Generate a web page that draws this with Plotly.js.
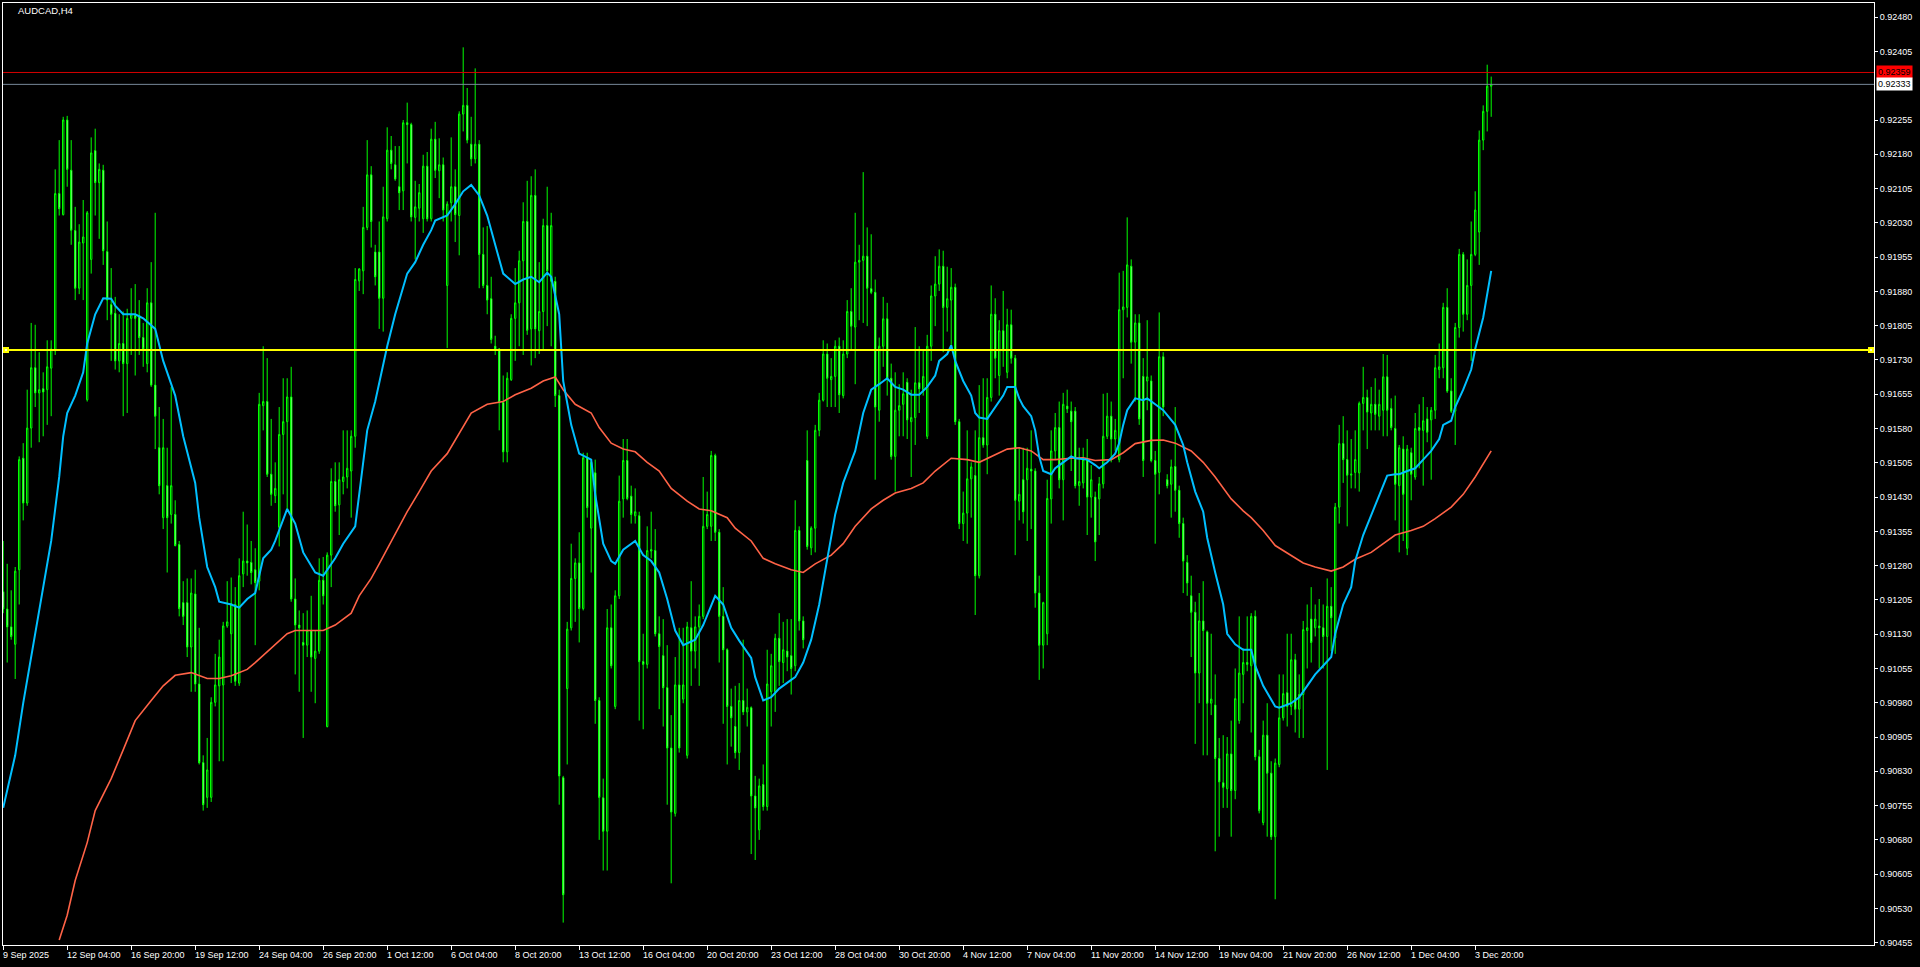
<!DOCTYPE html>
<html><head><meta charset="utf-8">
<script src="https://cdn.plot.ly/plotly-3.0.1.min.js"></script>
<style>html,body{margin:0;padding:0;background:#000;overflow:hidden}#chart{width:1920px;height:967px}</style>
</head><body><div id="chart"></div>
<script>
const symbol = 'AUDCAD,H4';

const open = [
0.91223,0.91185,0.91146,0.91108,0.91271,0.91515,0.91417,0.91581,0.91713,0.91658,
0.91667,0.91665,0.91712,0.91750,0.92094,0.92048,0.92255,0.92145,0.92013,0.91887,
0.91986,0.91643,0.91950,0.92188,0.92118,0.92145,0.91967,0.91851,0.91832,0.91728,
0.91766,0.91722,0.91821,0.91827,0.91827,0.91779,0.91722,0.91855,0.91675,0.91538,
0.91385,0.91455,0.91392,0.91392,0.91326,0.91199,0.91199,0.91102,0.91218,0.91021,
0.90849,0.90773,0.90773,0.90981,0.91017,0.91019,0.91148,0.91131,0.91195,0.91023,
0.91262,0.91290,0.91287,0.91271,0.91246,0.91630,0.91639,0.91480,0.91433,0.91364,
0.91567,0.91595,0.91649,0.91207,0.91150,0.91112,0.91106,0.91138,0.91077,0.91093,
0.91248,0.90928,0.91303,0.91464,0.91413,0.91464,0.91474,0.91487,0.91563,0.91903,
0.91925,0.92020,0.92135,0.91966,0.91966,0.91865,0.92039,0.92189,0.92157,0.92109,
0.92100,0.92249,0.92245,0.92042,0.92062,0.92039,0.92154,0.92039,0.92213,0.92144,
0.92157,0.91893,0.92074,0.92109,0.92046,0.92268,0.92287,0.92202,0.92170,0.92202,
0.91961,0.91893,0.91864,0.91760,0.91754,0.91637,0.91529,0.91687,0.91821,0.91855,
0.91947,0.92033,0.91798,0.92090,0.91794,0.91836,0.92024,0.91902,0.91902,0.91652,
0.90816,0.91011,0.91144,0.91252,0.91286,0.91186,0.91516,0.91362,0.91483,0.90985,
0.90772,0.90699,0.91144,0.90972,0.91214,0.91426,0.91510,0.91432,0.91389,0.91389,
0.91070,0.91064,0.91312,0.91313,0.91131,0.91083,0.91013,0.90881,0.90738,0.91019,
0.90988,0.90865,0.91144,0.91093,0.91146,0.91169,0.91366,0.91366,0.91521,0.91353,
0.91169,0.91096,0.90972,0.90928,0.90871,0.90985,0.90960,0.90969,0.90776,0.90702,
0.90801,0.90753,0.91004,0.91004,0.91121,0.91068,0.91093,0.91083,0.91061,0.91357,
0.91159,0.91510,0.91319,0.91362,0.91576,0.91642,0.91743,0.91687,0.91694,0.91760,
0.91652,0.91743,0.91836,0.91802,0.91944,0.91948,0.91957,0.91886,0.91878,0.91620,
0.91760,0.91820,0.91690,0.91519,0.91620,0.91633,0.91681,0.91595,0.91604,0.91680,
0.91665,0.91563,0.91760,0.91870,0.91896,0.91935,0.91845,0.91861,0.91889,0.91595,
0.91372,0.91395,0.91470,0.91477,0.91258,0.91560,0.91544,0.91648,0.91830,0.91696,
0.91794,0.91703,0.91807,0.91734,0.91421,0.91468,0.91468,0.91491,0.91487,0.91220,
0.91106,0.91131,0.91426,0.91531,0.91582,0.91468,0.91629,0.91618,0.91618,0.91455,
0.91461,0.91512,0.91430,0.91430,0.91426,0.91459,0.91563,0.91607,0.91557,0.91512,
0.91840,0.91845,0.91935,0.91769,0.91811,0.91694,0.91684,0.91684,0.91510,0.91484,
0.91737,0.91468,0.91458,0.91497,0.91445,0.91372,0.91287,0.91214,0.91178,0.91045,
0.91159,0.91135,0.90979,0.90975,0.90858,0.90805,0.90792,0.90868,0.90788,0.90941,
0.91042,0.91068,0.91061,0.91169,0.90862,0.90718,0.90909,0.90826,0.90687,0.90845,
0.90947,0.91002,0.90972,0.91074,0.90966,0.90998,0.91138,0.91163,0.91144,0.91148,
0.91144,0.91125,0.91191,0.91122,0.91408,0.91547,0.91512,0.91478,0.91484,0.91483,
0.91635,0.91648,0.91614,0.91633,0.91607,0.91620,0.91693,0.91624,0.91580,0.91455,
0.91535,0.91318,0.91527,0.91474,0.91582,0.91576,0.91601,0.91599,0.91620,0.91709,
0.91713,0.91845,0.91662,0.91618,0.91801,0.91961,0.91830,0.91893,0.91961,0.92010,
0.92211,0.92274,0.92329];

const high = [
0.91334,0.91284,0.91226,0.91277,0.91519,0.91548,0.91665,0.91811,0.91807,0.91747,
0.91703,0.91773,0.91773,0.92147,0.92211,0.92262,0.92264,0.92211,0.92065,0.92027,
0.92080,0.92056,0.92217,0.92236,0.92160,0.92157,0.92033,0.91931,0.91868,0.91830,
0.91836,0.91842,0.91887,0.91896,0.91861,0.91811,0.91887,0.91944,0.92052,0.91627,
0.91601,0.91538,0.91671,0.91423,0.91334,0.91246,0.91252,0.91252,0.91271,0.91144,
0.90865,0.90903,0.90992,0.91087,0.91118,0.91157,0.91246,0.91254,0.91233,0.91296,
0.91398,0.91370,0.91334,0.91318,0.91658,0.91760,0.91734,0.91601,0.91506,0.91627,
0.91690,0.91690,0.91715,0.91252,0.91182,0.91176,0.91182,0.91214,0.91138,0.91296,
0.91299,0.91309,0.91493,0.91506,0.91506,0.91576,0.91576,0.91576,0.91931,0.91931,
0.92065,0.92211,0.92154,0.91982,0.92033,0.92109,0.92239,0.92220,0.92198,0.92198,
0.92255,0.92293,0.92249,0.92122,0.92115,0.92179,0.92185,0.92236,0.92251,0.92215,
0.92173,0.92077,0.92217,0.92147,0.92274,0.92414,0.92325,0.92262,0.92368,0.92211,
0.92020,0.92023,0.91912,0.91783,0.91756,0.91696,0.91703,0.91830,0.91931,0.91969,
0.92075,0.92122,0.92132,0.92147,0.91944,0.92039,0.92109,0.92052,0.91912,0.91665,
0.90820,0.91157,0.91328,0.91296,0.91353,0.91527,0.91527,0.91512,0.91512,0.90992,
0.90814,0.91185,0.91195,0.91226,0.91477,0.91557,0.91557,0.91455,0.91449,0.91398,
0.91131,0.91366,0.91398,0.91360,0.91169,0.91163,0.91106,0.90953,0.91080,0.91144,
0.91144,0.91157,0.91246,0.91169,0.91195,0.91474,0.91442,0.91531,0.91525,0.91360,
0.91233,0.91099,0.91011,0.91017,0.91023,0.91118,0.91011,0.90972,0.90820,0.90814,
0.90845,0.91096,0.91087,0.91131,0.91176,0.91157,0.91163,0.91163,0.91423,0.91366,
0.91169,0.91576,0.91366,0.91588,0.91658,0.91773,0.91766,0.91734,0.91773,0.91779,
0.91773,0.91861,0.91887,0.92052,0.91982,0.92141,0.92020,0.92005,0.91906,0.91779,
0.91868,0.91855,0.91722,0.91703,0.91677,0.91703,0.91690,0.91665,0.91802,0.91760,
0.91754,0.91785,0.91893,0.91957,0.91972,0.91969,0.91934,0.91931,0.91897,0.91601,
0.91442,0.91576,0.91506,0.91576,0.91675,0.91690,0.91690,0.91893,0.91865,0.91817,
0.91881,0.91842,0.91840,0.91741,0.91538,0.91538,0.91538,0.91576,0.91493,0.91258,
0.91201,0.91468,0.91576,0.91614,0.91639,0.91658,0.91665,0.91639,0.91627,0.91538,
0.91538,0.91557,0.91500,0.91442,0.91474,0.91656,0.91658,0.91639,0.91601,0.91921,
0.91925,0.92042,0.91950,0.91830,0.91830,0.91734,0.91817,0.91696,0.91531,0.91834,
0.91747,0.91480,0.91512,0.91627,0.91455,0.91385,0.91303,0.91258,0.91201,0.91220,
0.91246,0.91138,0.91131,0.91042,0.90903,0.90909,0.90905,0.90941,0.91055,0.91169,
0.91099,0.91169,0.91176,0.91182,0.90877,0.90941,0.90979,0.90852,0.90858,0.91042,
0.91042,0.91131,0.91131,0.91087,0.91042,0.91159,0.91195,0.91233,0.91195,0.91207,
0.91195,0.91252,0.91233,0.91417,0.91588,0.91607,0.91576,0.91557,0.91576,0.91639,
0.91715,0.91665,0.91671,0.91690,0.91665,0.91743,0.91741,0.91646,0.91652,0.91544,
0.91563,0.91544,0.91538,0.91614,0.91633,0.91649,0.91627,0.91627,0.91741,0.91766,
0.91855,0.91887,0.91690,0.91811,0.91973,0.91966,0.91950,0.92033,0.92099,0.92232,
0.92287,0.92376,0.92350];

const low = [
0.91176,0.91068,0.91118,0.91032,0.91195,0.91379,0.91411,0.91538,0.91627,0.91550,
0.91563,0.91588,0.91607,0.91741,0.92046,0.92046,0.92109,0.91982,0.91861,0.91874,
0.91861,0.91639,0.91919,0.92046,0.91995,0.91938,0.91817,0.91728,0.91709,0.91703,
0.91607,0.91614,0.91741,0.91696,0.91741,0.91715,0.91703,0.91671,0.91535,0.91436,
0.91360,0.91265,0.91372,0.91322,0.91169,0.91150,0.91080,0.91004,0.91004,0.90845,
0.90744,0.90750,0.90763,0.90972,0.90852,0.90852,0.91144,0.91023,0.91017,0.91017,
0.91233,0.91258,0.91239,0.91106,0.91226,0.91576,0.91474,0.91411,0.91417,0.91322,
0.91436,0.91398,0.91201,0.91042,0.91004,0.90903,0.91080,0.91004,0.90979,0.91087,
0.91195,0.90926,0.91233,0.91398,0.91347,0.91436,0.91449,0.91385,0.91538,0.91881,
0.91874,0.92014,0.91976,0.91893,0.91798,0.91792,0.92033,0.92147,0.92122,0.92058,
0.92058,0.92160,0.92033,0.91950,0.92033,0.92008,0.92033,0.92033,0.92128,0.92084,
0.92033,0.91756,0.92033,0.91988,0.91959,0.92230,0.92204,0.92154,0.92160,0.91887,
0.91887,0.91830,0.91766,0.91741,0.91576,0.91506,0.91506,0.91684,0.91728,0.91760,
0.91741,0.91785,0.91718,0.91734,0.91743,0.91754,0.91804,0.91760,0.91627,0.90757,
0.90499,0.90845,0.91138,0.91157,0.91112,0.91182,0.91385,0.91265,0.90934,0.90680,
0.90613,0.90613,0.91055,0.90966,0.91207,0.91385,0.91423,0.91372,0.91372,0.90941,
0.90922,0.91055,0.91296,0.91125,0.90966,0.90928,0.90757,0.90585,0.90731,0.90871,
0.90979,0.90858,0.91017,0.91055,0.91017,0.91163,0.91360,0.91334,0.91334,0.91068,
0.90934,0.90845,0.90884,0.90858,0.90833,0.90953,0.90928,0.90649,0.90636,0.90680,
0.90744,0.90744,0.90928,0.90960,0.91017,0.91023,0.91049,0.90998,0.91049,0.91138,
0.91099,0.91315,0.91303,0.91309,0.91563,0.91639,0.91627,0.91627,0.91627,0.91614,
0.91646,0.91734,0.91754,0.91677,0.91817,0.91811,0.91804,0.91874,0.91468,0.91595,
0.91715,0.91652,0.91512,0.91442,0.91563,0.91563,0.91557,0.91474,0.91544,0.91614,
0.91652,0.91557,0.91728,0.91804,0.91881,0.91747,0.91792,0.91754,0.91588,0.91360,
0.91334,0.91328,0.91385,0.91172,0.91252,0.91538,0.91480,0.91639,0.91690,0.91652,
0.91715,0.91690,0.91722,0.91303,0.91379,0.91372,0.91334,0.91360,0.91188,0.91030,
0.91055,0.91106,0.91372,0.91512,0.91449,0.91379,0.91614,0.91487,0.91449,0.91411,
0.91449,0.91347,0.91385,0.91290,0.91347,0.91449,0.91557,0.91506,0.91531,0.91506,
0.91690,0.91823,0.91722,0.91639,0.91588,0.91474,0.91620,0.91506,0.91328,0.91436,
0.91607,0.91449,0.91385,0.91398,0.91341,0.91220,0.91214,0.91080,0.90890,0.90979,
0.90865,0.90865,0.90953,0.90655,0.90687,0.90750,0.90750,0.90687,0.90769,0.90934,
0.90979,0.91049,0.90915,0.90854,0.90738,0.90712,0.90687,0.90680,0.90550,0.90839,
0.90941,0.90928,0.90953,0.90915,0.90903,0.90903,0.91055,0.91068,0.91125,0.91055,
0.91055,0.90833,0.91093,0.91087,0.91372,0.91461,0.91366,0.91449,0.91449,0.91442,
0.91576,0.91535,0.91576,0.91576,0.91576,0.91563,0.91563,0.91576,0.91379,0.91309,
0.91334,0.91303,0.91423,0.91468,0.91493,0.91455,0.91550,0.91468,0.91601,0.91690,
0.91690,0.91658,0.91614,0.91544,0.91779,0.91792,0.91817,0.91728,0.91957,0.91938,
0.92189,0.92230,0.92262];

const close = [
0.91185,0.91146,0.91125,0.91268,0.91512,0.91417,0.91581,0.91713,0.91658,0.91665,
0.91660,0.91715,0.91754,0.92094,0.92061,0.92255,0.92147,0.92014,0.91887,0.91988,
0.91999,0.92052,0.92183,0.92118,0.92147,0.91969,0.91861,0.91830,0.91728,0.91766,
0.91722,0.91821,0.91830,0.91821,0.91779,0.91754,0.91855,0.91675,0.91607,0.91455,
0.91538,0.91385,0.91455,0.91324,0.91186,0.91169,0.91102,0.91220,0.91021,0.90849,
0.90757,0.90833,0.90981,0.91019,0.91080,0.91148,0.91157,0.91197,0.91027,0.91258,
0.91290,0.91286,0.91265,0.91243,0.91633,0.91639,0.91480,0.91436,0.91449,0.91567,
0.91595,0.91649,0.91207,0.91150,0.91144,0.91106,0.91138,0.91080,0.91093,0.91248,
0.91214,0.91303,0.91464,0.91411,0.91468,0.91474,0.91493,0.91563,0.91906,0.91929,
0.92020,0.92135,0.92033,0.91912,0.91865,0.92043,0.92189,0.92160,0.92126,0.92096,
0.92249,0.92245,0.92043,0.92065,0.92096,0.92154,0.92039,0.92213,0.92145,0.92157,
0.92058,0.92071,0.92109,0.92048,0.92268,0.92287,0.92211,0.92170,0.92202,0.91961,
0.91893,0.91861,0.91775,0.91754,0.91637,0.91529,0.91690,0.91821,0.91855,0.91947,
0.92033,0.91795,0.92090,0.91798,0.91836,0.92024,0.91925,0.92024,0.91652,0.90820,
0.90560,0.91141,0.91252,0.91286,0.91186,0.91516,0.91407,0.91506,0.90985,0.90773,
0.90699,0.91144,0.91061,0.91214,0.91421,0.91510,0.91427,0.91392,0.91398,0.91070,
0.91064,0.91313,0.91315,0.91131,0.91103,0.91013,0.90881,0.90741,0.91019,0.90881,
0.91019,0.91146,0.91093,0.91146,0.91169,0.91366,0.91392,0.91521,0.91353,0.91169,
0.91096,0.90972,0.90947,0.90871,0.90985,0.90960,0.90970,0.90776,0.90750,0.90798,
0.90753,0.91021,0.91061,0.91121,0.91070,0.91096,0.91080,0.91055,0.91357,0.91159,
0.91118,0.91322,0.91362,0.91576,0.91642,0.91743,0.91690,0.91694,0.91760,0.91654,
0.91743,0.91836,0.91804,0.91944,0.91948,0.91957,0.91887,0.91878,0.91627,0.91760,
0.91820,0.91690,0.91519,0.91620,0.91630,0.91656,0.91599,0.91604,0.91680,0.91667,
0.91694,0.91760,0.91870,0.91896,0.91935,0.91845,0.91864,0.91889,0.91595,0.91372,
0.91395,0.91470,0.91496,0.91258,0.91560,0.91544,0.91648,0.91830,0.91734,0.91794,
0.91750,0.91807,0.91734,0.91423,0.91436,0.91398,0.91493,0.91487,0.91220,0.91106,
0.91199,0.91427,0.91531,0.91582,0.91468,0.91633,0.91623,0.91595,0.91455,0.91464,
0.91512,0.91430,0.91468,0.91332,0.91459,0.91563,0.91607,0.91557,0.91576,0.91840,
0.91846,0.91938,0.91769,0.91811,0.91601,0.91510,0.91693,0.91510,0.91480,0.91737,
0.91627,0.91455,0.91496,0.91445,0.91372,0.91290,0.91242,0.91178,0.91045,0.91159,
0.91138,0.90979,0.90988,0.90858,0.90807,0.90795,0.90868,0.90788,0.90989,0.91045,
0.91068,0.91064,0.91169,0.90862,0.90744,0.90909,0.90826,0.90687,0.90848,0.90947,
0.91000,0.90972,0.91074,0.90966,0.90998,0.91140,0.91144,0.91112,0.91163,0.91144,
0.91125,0.91191,0.91166,0.91408,0.91547,0.91512,0.91478,0.91480,0.91512,0.91635,
0.91648,0.91616,0.91633,0.91611,0.91633,0.91693,0.91620,0.91582,0.91458,0.91538,
0.91436,0.91535,0.91480,0.91580,0.91576,0.91597,0.91572,0.91620,0.91713,0.91715,
0.91845,0.91662,0.91618,0.91801,0.91961,0.91830,0.91893,0.91961,0.92058,0.92211,
0.92274,0.92329,0.92333];

// fast moving average (blue), read at bar indices
const maFastBar = [
0,3,5,8,10,12,14,15,16,18,
20,21,23,25,27,28,30,33,35,38,
40,43,45,48,49,51,53,54,57,59,
61,63,65,67,68,71,73,75,78,80,
83,85,88,89,91,93,94,96,98,101,
103,105,107,108,111,113,115,117,119,121,
123,125,128,130,132,134,136,137,139,140,
142,144,147,148,150,152,153,155,158,160,
162,164,166,168,170,173,175,178,180,182,
184,187,188,190,192,194,197,198,200,202,
204,206,208,210,213,215,217,219,221,223,
225,227,229,231,233,234,236,237,238,240,
242,243,244,246,248,250,251,253,254,255,
257,258,259,260,262,263,265,267,268,271,
273,274,276,278,279,280,281,283,285,286,
288,289,290,293,295,296,298,300,301,303,
305,306,308,310,312,313,315,318,319,322,
324,326,328,330,332,333,335,337,338,340,
343,345,346,348,349,351,353,355,357,359,
360,362,363,365,367,368,370,372];
const maFast = [
0.90750,0.90865,0.90979,0.91131,0.91233,0.91334,0.91474,0.91563,0.91614,0.91652,
0.91703,0.91766,0.91830,0.91865,0.91864,0.91849,0.91830,0.91830,0.91821,0.91798,
0.91728,0.91652,0.91563,0.91461,0.91385,0.91277,0.91233,0.91201,0.91195,0.91188,
0.91207,0.91220,0.91296,0.91315,0.91334,0.91404,0.91372,0.91309,0.91265,0.91258,
0.91296,0.91328,0.91366,0.91440,0.91576,0.91639,0.91680,0.91760,0.91830,0.91919,
0.91944,0.91982,0.92014,0.92035,0.92046,0.92071,0.92099,0.92113,0.92090,0.92046,
0.91982,0.91919,0.91896,0.91906,0.91912,0.91900,0.91921,0.91912,0.91830,0.91684,
0.91588,0.91525,0.91512,0.91436,0.91328,0.91290,0.91284,0.91315,0.91334,0.91303,
0.91290,0.91265,0.91207,0.91138,0.91106,0.91118,0.91150,0.91214,0.91195,0.91144,
0.91116,0.91078,0.91036,0.90985,0.90992,0.91011,0.91030,0.91036,0.91068,0.91118,
0.91195,0.91296,0.91392,0.91461,0.91531,0.91614,0.91665,0.91677,0.91690,0.91671,
0.91665,0.91654,0.91654,0.91671,0.91696,0.91728,0.91743,0.91762,0.91728,0.91684,
0.91652,0.91614,0.91604,0.91601,0.91627,0.91652,0.91671,0.91671,0.91646,0.91629,
0.91607,0.91576,0.91519,0.91487,0.91480,0.91493,0.91506,0.91519,0.91515,0.91512,
0.91500,0.91493,0.91506,0.91525,0.91548,0.91588,0.91620,0.91646,0.91642,0.91646,
0.91633,0.91627,0.91620,0.91588,0.91544,0.91506,0.91442,0.91398,0.91341,0.91265,
0.91195,0.91131,0.91108,0.91096,0.91096,0.91061,0.91017,0.90972,0.90969,0.90979,
0.90992,0.91017,0.91042,0.91061,0.91080,0.91131,0.91195,0.91233,0.91290,0.91347,
0.91411,0.91455,0.91477,0.91480,0.91480,0.91487,0.91493,0.91512,0.91531,0.91557,
0.91588,0.91597,0.91627,0.91665,0.91709,0.91754,0.91823,0.91925];

// slow moving average (tomato), read at bar indices
const maSlowBar = [
14,16,18,21,23,27,30,33,37,40,
43,47,51,54,57,61,63,66,68,71,
73,77,80,83,87,89,92,94,97,101,
104,107,111,114,117,121,125,128,132,135,
138,140,143,147,149,152,155,158,161,164,
167,171,174,177,181,183,187,190,193,197,
200,203,207,210,213,217,220,223,227,230,
233,237,241,244,247,251,254,257,260,263,
267,270,273,277,280,283,287,290,293,297,
300,303,307,310,312,315,318,322,325,328,
332,335,338,342,345,348,352,355,358,362,
365,368,372];
const maSlow = [
0.90461,0.90515,0.90591,0.90674,0.90744,0.90814,0.90877,0.90941,0.90985,0.91017,
0.91040,0.91046,0.91033,0.91033,0.91039,0.91053,0.91068,0.91091,0.91108,0.91131,
0.91138,0.91138,0.91138,0.91150,0.91176,0.91214,0.91252,0.91284,0.91334,0.91398,
0.91442,0.91487,0.91525,0.91569,0.91614,0.91633,0.91639,0.91654,0.91668,0.91684,
0.91693,0.91665,0.91633,0.91614,0.91582,0.91548,0.91535,0.91529,0.91506,0.91487,
0.91449,0.91421,0.91404,0.91400,0.91385,0.91362,0.91334,0.91296,0.91284,0.91271,
0.91265,0.91284,0.91303,0.91328,0.91366,0.91404,0.91423,0.91439,0.91449,0.91461,
0.91487,0.91515,0.91512,0.91506,0.91519,0.91535,0.91538,0.91531,0.91512,0.91512,
0.91515,0.91516,0.91510,0.91512,0.91527,0.91547,0.91554,0.91555,0.91548,0.91531,
0.91506,0.91474,0.91426,0.91400,0.91385,0.91357,0.91324,0.91303,0.91286,0.91277,
0.91268,0.91277,0.91294,0.91309,0.91328,0.91347,0.91357,0.91366,0.91383,0.91408,
0.91436,0.91474,0.91531];

const askPrice = 0.92359;
const bidPrice = 0.92333;
const levelPrice = 0.91752;

const timeTickBar = [0,16,32,48,64,80,96,112,128,144,160,176,192,208,224,240,256,272,288,304,320,336,352,368];
const timeTickText = ['9 Sep 2025','12 Sep 04:00','16 Sep 20:00','19 Sep 12:00','24 Sep 04:00','26 Sep 20:00',
 '1 Oct 12:00','6 Oct 04:00','8 Oct 20:00','13 Oct 12:00','16 Oct 04:00','20 Oct 20:00','23 Oct 12:00',
 '28 Oct 04:00','30 Oct 20:00','4 Nov 12:00','7 Nov 04:00','11 Nov 20:00','14 Nov 12:00','19 Nov 04:00',
 '21 Nov 20:00','26 Nov 12:00','1 Dec 04:00','3 Dec 20:00'];

const priceTicks = [0.90455,0.90530,0.90605,0.90680,0.90755,0.90830,0.90905,0.90980,0.91055,0.91130,
 0.91205,0.91280,0.91355,0.91430,0.91505,0.91580,0.91655,0.91730,0.91805,0.91880,0.91955,0.92030,
 0.92105,0.92180,0.92255,0.92405,0.92480];

const bar = close.map((_, i) => i);
const FONT = 'Liberation Sans, Arial, sans-serif';
const GREEN = '#00ff00';

const traces = [
  {type:'candlestick', x:bar, open:open, high:high, low:low, close:close,
   increasing:{line:{color:GREEN, width:1}, fillcolor:'#000000'},
   decreasing:{line:{color:GREEN, width:1}, fillcolor:'#ffffff'},
   whiskerwidth:0, hoverinfo:'none', showlegend:false},
  {type:'scatter', mode:'lines', x:maSlowBar, y:maSlow, line:{color:'#ff6347', width:1.6},
   hoverinfo:'skip', showlegend:false},
  {type:'scatter', mode:'lines', x:maFastBar, y:maFast, line:{color:'#00bfff', width:2},
   hoverinfo:'skip', showlegend:false}
];

const annotations = timeTickBar.map((b, k) => ({
  x:b, xref:'x', y:0, yref:'paper', text:timeTickText[k], showarrow:false,
  xanchor:'left', yanchor:'top', xshift:-2, yshift:-3,
  font:{family:FONT, size:9, color:'#ffffff'}
}));
annotations.push({x:1, xref:'paper', y:askPrice, yref:'y', text:askPrice.toFixed(5), showarrow:false,
  xanchor:'left', yanchor:'middle', xshift:2, bgcolor:'#ff0000', borderpad:1,
  font:{family:FONT, size:9, color:'#000000'}});
annotations.push({x:1, xref:'paper', y:bidPrice, yref:'y', text:bidPrice.toFixed(5), showarrow:false,
  xanchor:'left', yanchor:'middle', xshift:2, bgcolor:'#ffffff', borderpad:1,
  font:{family:FONT, size:9, color:'#000000'}});

const shapes = [
  {type:'line', xref:'paper', x0:0, x1:1, yref:'y', y0:askPrice, y1:askPrice, line:{color:'#d40000', width:1}},
  {type:'line', xref:'paper', x0:0, x1:1, yref:'y', y0:bidPrice, y1:bidPrice, line:{color:'#778899', width:1}},
  {type:'line', xref:'paper', x0:0, x1:1, yref:'y', y0:levelPrice, y1:levelPrice, line:{color:'#ffff00', width:2}},
  {type:'rect', xref:'paper', xsizemode:'pixel', xanchor:0, x0:1, x1:5,
   yref:'y', ysizemode:'pixel', yanchor:levelPrice, y0:-2, y1:2,
   fillcolor:'#ffffcc', line:{color:'#ffff00', width:2}},
  {type:'rect', xref:'paper', xsizemode:'pixel', xanchor:1, x0:-5, x1:-1,
   yref:'y', ysizemode:'pixel', yanchor:levelPrice, y0:-2, y1:2,
   fillcolor:'#ffffcc', line:{color:'#ffff00', width:2}}
];

const layout = {
  width:1920, height:967,
  paper_bgcolor:'#000000', plot_bgcolor:'#000000',
  margin:{l:3, r:46, t:3, b:22, pad:0},
  showlegend:false, hovermode:false, boxgap:0.5,
  title:{text:symbol, x:18/1920, xref:'container', xanchor:'left', y:1-11/967, yref:'container', yanchor:'middle',
         font:{family:FONT, size:9.5, color:'#ffffff'}},
  xaxis:{type:'linear', range:[-0.05, 467.7], showgrid:false, zeroline:false,
         showline:true, mirror:true, linecolor:'#ffffff', linewidth:1,
         tickmode:'array', tickvals:timeTickBar, ticks:'outside', ticklen:4, tickcolor:'#ffffff', tickwidth:1,
         showticklabels:false, rangeslider:{visible:false}, fixedrange:true},
  yaxis:{side:'right', range:[0.90450, 0.92511], showgrid:false, zeroline:false,
         showline:true, mirror:true, linecolor:'#ffffff', linewidth:1,
         tickmode:'array', tickvals:priceTicks, ticktext:priceTicks.map(v => v.toFixed(5)),
         ticks:'outside', ticklen:3, tickcolor:'#ffffff', tickwidth:1,
         tickfont:{family:FONT, size:9, color:'#ffffff'}, fixedrange:true},
  annotations:annotations,
  shapes:shapes
};

Plotly.newPlot('chart', traces, layout, {staticPlot:true, displayModeBar:false});
</script>
</body></html>
